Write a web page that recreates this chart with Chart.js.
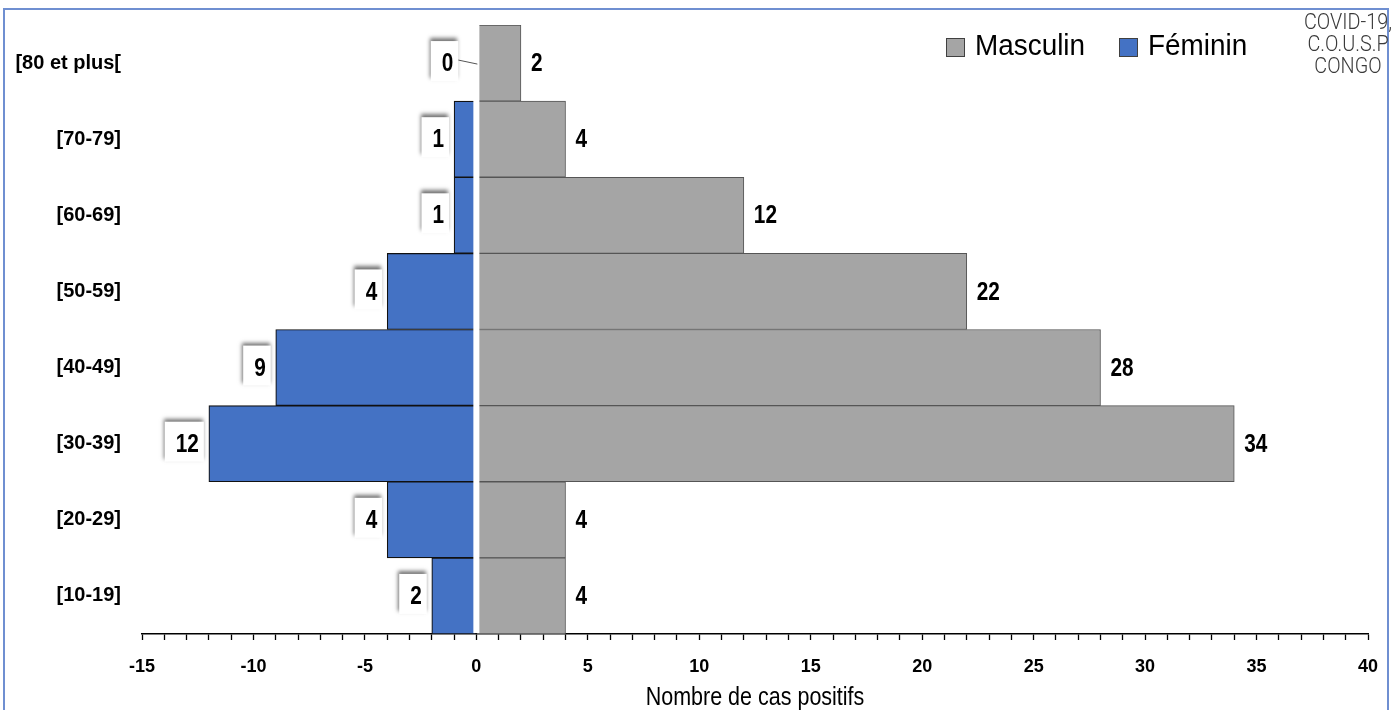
<!DOCTYPE html>
<html><head><meta charset="utf-8">
<script src="https://cdn.jsdelivr.net/npm/chart.js@4.4.1/dist/chart.umd.min.js"></script>
<style>html,body{margin:0;padding:0;background:#fff;overflow:hidden}#wrap{position:relative;width:1399px;height:710px}</style>
</head><body><div id="wrap"><canvas id="c"></canvas></div>
<script>
const categories = ['[80 et plus[','[70-79]','[60-69]','[50-59]','[40-49]','[30-39]','[20-29]','[10-19]'];
const masculin = [2,4,12,22,28,34,4,4];
const feminin = [0,1,1,4,9,12,4,2];
const xMin = -15, xMax = 40, labelStep = 5;
const axisTitle = 'Nombre de cas positifs';
const sourceNote = ['COVID-19,','C.O.U.S.P','CONGO'];
const seriesNames = ['Masculin','Féminin'];

const GRAY = '#A5A5A5', BLUE = '#4472C4';

function drawText(ctx, text, x, y, font, sx, align, color, baseline) {
  ctx.save();
  ctx.font = font; ctx.fillStyle = color; ctx.textBaseline = baseline || 'middle'; ctx.textAlign = 'left';
  const w = ctx.measureText(text).width * sx;
  const left = align === 'left' ? x : align === 'right' ? x - w : x - w / 2;
  ctx.translate(left, y); ctx.scale(sx, 1);
  ctx.fillText(text, 0, 0);
  ctx.restore();
  return {left, right: left + w};
}

const LBL_FONT = 'bold 26px "Liberation Sans", Arial, sans-serif';
const LBL_SX = 0.8;

const pyramidPlugin = {
  id: 'pyramid',
  afterDatasetsDraw(chart) {
    const ctx = chart.ctx, xs = chart.scales.x, ca = chart.chartArea;
    const x0 = xs.getPixelForValue(0);
    ctx.save();
    ctx.fillStyle = '#fff';
    ctx.fillRect(x0 - 3, ca.top - 1, 6, ca.bottom - ca.top);
    ctx.restore();
    // male labels
    const mM = chart.getDatasetMeta(0);
    mM.data.forEach((el, i) => {
      drawText(ctx, String(masculin[i]), xs.getPixelForValue(masculin[i]) + 10, el.y + 1, LBL_FONT, LBL_SX, 'left', '#000');
    });
    // female labels with box
    const mF = chart.getDatasetMeta(1);
    mF.data.forEach((el, i) => {
      const v = feminin[i];
      const txt = String(v);
      ctx.save(); ctx.font = LBL_FONT;
      const w = ctx.measureText(txt).width * LBL_SX; ctx.restore();
      const ex = xs.getPixelForValue(-v);
      const right = ex - 10 - (v === 0 ? 13 : 0);
      const left = right - w;
      const cy = el.y;
      const bl = left - 11, br = right + 5, bt = cy - 22, bb = cy + 18;
      ctx.save();
      ctx.shadowColor = 'rgba(0,0,0,0.55)'; ctx.shadowBlur = 4; ctx.shadowOffsetX = -1; ctx.shadowOffsetY = -3;
      ctx.fillStyle = '#fff'; ctx.fillRect(bl, bt, br - bl, bb - bt);
      ctx.restore();
      if (v === 0) {
        ctx.save(); ctx.strokeStyle = '#555'; ctx.lineWidth = 1;
        ctx.beginPath(); ctx.moveTo(br, cy - 3); ctx.lineTo(x0 + 1, cy + 1); ctx.stroke(); ctx.restore();
      }
      drawText(ctx, txt, left, cy + 1, LBL_FONT, LBL_SX, 'left', '#000');
    });
  },
  afterDraw(chart) {
    const ctx = chart.ctx;
    // legend
    const items = [{x: 946, ds: chart.data.datasets[0]}, {x: 1119, ds: chart.data.datasets[1]}];
    items.forEach(it => {
      ctx.save();
      ctx.fillStyle = it.ds.backgroundColor; ctx.fillRect(it.x, 38, 19, 19);
      ctx.strokeStyle = '#404040'; ctx.lineWidth = 1; ctx.strokeRect(it.x + 0.5, 38.5, 18, 18);
      ctx.restore();
      drawText(ctx, it.ds.label, it.x + 29, 47, '30px "Liberation Sans", Arial, sans-serif', 0.93, 'left', '#000');
    });
    // frame
    ctx.save();
    ctx.strokeStyle = '#6f8fd1'; ctx.lineWidth = 2;
    ctx.beginPath();
    ctx.moveTo(4, 712); ctx.lineTo(4, 9); ctx.lineTo(1388, 9); ctx.lineTo(1388, 712);
    ctx.stroke();
    ctx.restore();
    // source note
    sourceNote.forEach((t, i) => {
      drawText(ctx, t, 1348, 23 + i * 22, '300 22px Roboto, "Liberation Sans", sans-serif', 0.9, 'center', '#3a3a3a');
    });
    // axis title
    drawText(ctx, axisTitle, 755, 705, '25px "Liberation Sans", Arial, sans-serif', 0.86, 'center', '#000', 'alphabetic');
  }
};

new Chart(document.getElementById('c'), {
  type: 'bar',
  data: {
    labels: categories,
    datasets: [
      {label: seriesNames[0], data: masculin, backgroundColor: GRAY, borderColor: '#555', borderWidth: 1, borderSkipped: false, barPercentage: 1, categoryPercentage: 1},
      {label: seriesNames[1], data: feminin.map(v => -v), backgroundColor: BLUE, borderColor: '#111', borderWidth: 1.2, borderSkipped: false, barPercentage: 1, categoryPercentage: 1}
    ]
  },
  options: {
    indexAxis: 'y',
    responsive: true, maintainAspectRatio: false, animation: false,
    layout: {padding: {top: 25, right: 31, left: 0, bottom: 0}},
    plugins: {legend: {display: false}, tooltip: {enabled: false}},
    scales: {
      x: {
        type: 'linear', min: xMin, max: xMax, stacked: true,
        afterFit(s) { s.height = 76; },
        border: {display: true, color: '#000', width: 1.5},
        grid: {drawOnChartArea: false, drawTicks: true, tickLength: 6, tickColor: '#000', tickWidth: 1.3},
        ticks: {stepSize: 1, autoSkip: false, maxRotation: 0, padding: 16, color: '#000',
          font: {family: '"Liberation Sans", Arial, sans-serif', weight: 'bold', size: 18},
          callback: v => (v % labelStep === 0 ? String(v) : '')}
      },
      y: {
        stacked: true,
        afterFit(s) { s.width = 142; s.paddingTop = 0; s.paddingBottom = 0; },
        border: {display: false},
        grid: {display: false, drawTicks: false},
        ticks: {padding: 21, color: '#000', font: {family: '"Liberation Sans", Arial, sans-serif', weight: 'bold', size: 20}}
      }
    }
  },
  plugins: [pyramidPlugin]
});
</script></body></html>
